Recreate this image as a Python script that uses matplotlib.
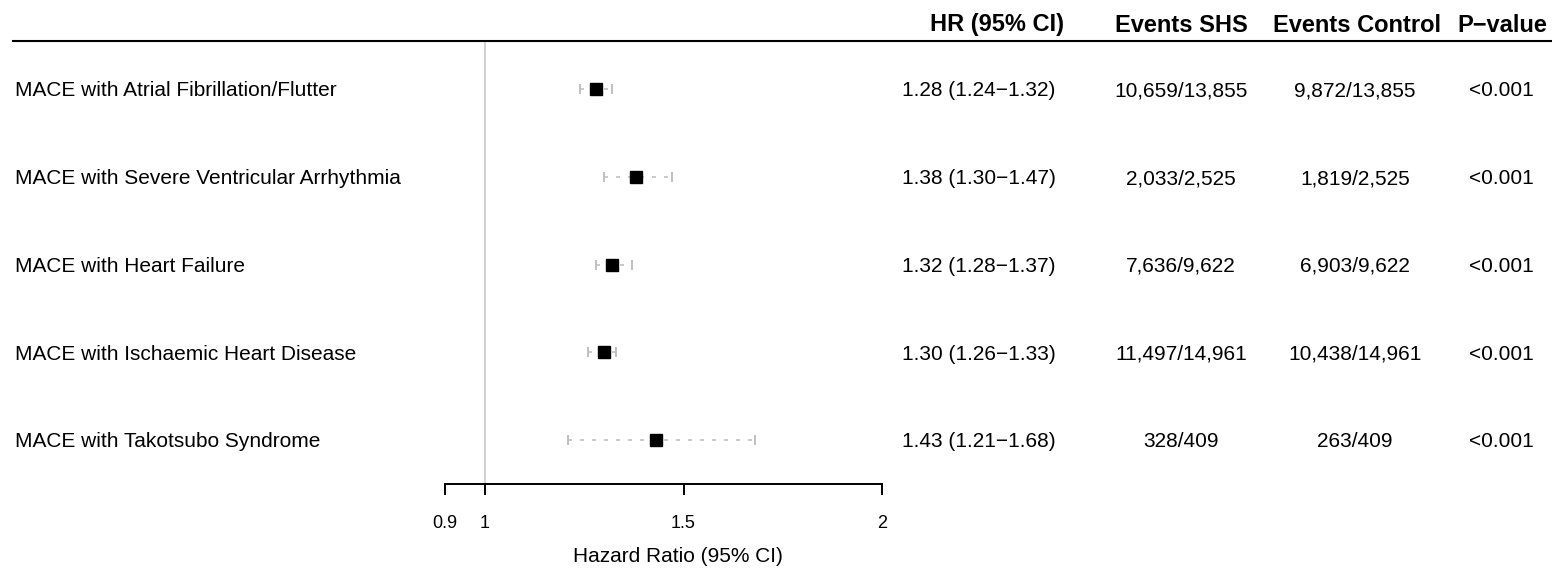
import numpy as np
import matplotlib
matplotlib.use("Agg")
import matplotlib.pyplot as plt
from matplotlib.transforms import blended_transform_factory

plt.rcParams['font.family'] = ['Liberation Sans', 'DejaVu Sans']

# data
labels = ["MACE with Atrial Fibrillation/Flutter",
          "MACE with Severe Ventricular Arrhythmia",
          "MACE with Heart Failure",
          "MACE with Ischaemic Heart Disease",
          "MACE with Takotsubo Syndrome"]
hr = [1.28, 1.38, 1.32, 1.30, 1.43]
lo = [1.24, 1.30, 1.28, 1.26, 1.21]
hi = [1.32, 1.47, 1.37, 1.33, 1.68]
events_shs = ["10,659/13,855", "2,033/2,525", "7,636/9,622", "11,497/14,961", "328/409"]
events_ctrl = ["9,872/13,855", "1,819/2,525", "6,903/9,622", "10,438/14,961", "263/409"]
pvals = ["<0.001"] * 5
headers = ["HR (95% CI)", "Events SHS", "Events Control", "P\u2212value"]
xticks = [0.9, 1, 1.5, 2]
xticklabels = ["0.9", "1", "1.5", "2"]

# layout (pixels)
W, H = 1552, 568
x_one, px_per_unit = 485, 397
row0, row_step = 89, 87.75

fig = plt.figure(figsize=(W / 100, H / 100), dpi=100)
ax = fig.add_axes([0, 0, 1, 1])
ax.set_xlim(1 - x_one / px_per_unit, 1 + (W - x_one) / px_per_unit)
ax.set_ylim((H - row0) / row_step, -row0 / row_step)
ax.patch.set_alpha(0)

def ypx(p):
    return (p - row0) / row_step

tr = blended_transform_factory(fig.transFigure, ax.transData)
rows = np.arange(len(labels))
txt_dy = 2 / row_step  # text sits a touch lower than the marks

# header line and reference line
ax.axhline(ypx(41), xmin=13 / W, xmax=1, color='black', lw=1.5)
ax.plot([1, 1], [ypx(41), ypx(484)], color='#d0d0d0', lw=1.4, zorder=1)

# CIs and points
ax.hlines(rows, lo, hi, colors='#c0c0c0', lw=1.2, linestyles=(0, (2.4, 4.8)))
ax.plot(lo, rows, ls='none', marker='|', ms=7.5, mew=1.4, color='#c0c0c0')
ax.plot(hi, rows, ls='none', marker='|', ms=7.5, mew=1.4, color='#c0c0c0')
ax.plot(hr, rows, ls='none', marker='s', ms=8, color='black', zorder=3)

# axis
for s in ['top', 'left', 'right']:
    ax.spines[s].set_visible(False)
ax.spines['bottom'].set_position(('data', ypx(484)))
ax.spines['bottom'].set_bounds(0.9, 2)
ax.spines['bottom'].set_linewidth(1.4)
ax.set_yticks([])
ax.set_xticks(xticks)
ax.set_xticklabels(xticklabels)
ax.tick_params(axis='x', direction='out', length=8, width=1.4, pad=14, labelsize=13)
ax.text(678 / W, ypx(557), "Hazard Ratio (95% CI)", transform=tr,
        ha='center', va='center', fontsize=15)

# table text
hdr_x = [997, 1181, 1357, 1502]
for x, h in zip(hdr_x, headers):
    ax.text(x / W, ypx(25), h, transform=tr, ha='center', va='center',
            fontsize=17, fontweight='bold')

for i in rows:
    y = i + txt_dy
    ax.text(15 / W, y, labels[i], transform=tr, ha='left', va='center', fontsize=15)
    ci = f"{hr[i]:.2f} ({lo[i]:.2f}\u2212{hi[i]:.2f})"
    ax.text(979 / W, y, ci, transform=tr, ha='center', va='center', fontsize=15)
    ax.text(1181 / W, y, events_shs[i], transform=tr, ha='center', va='center', fontsize=15)
    ax.text(1355 / W, y, events_ctrl[i], transform=tr, ha='center', va='center', fontsize=15)
    ax.text(1501 / W, y, pvals[i], transform=tr, ha='center', va='center', fontsize=15)

fig.savefig("out.png", dpi=100)
